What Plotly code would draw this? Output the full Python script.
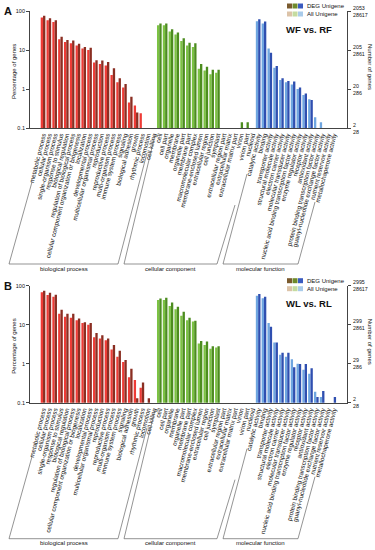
import math
import plotly.graph_objects as go

W, H = 375, 550

bio_terms = ["metabolic process", "cellular process", "single-organism process", "response to stimulus",
             "biological regulation", "regulation of biological process",
             "cellular component organization or biogenesis", "localization", "developmental process",
             "multicellular organismal process", "reproduction", "reproductive process",
             "multi-organism process", "immune system process", "signaling", "biological adhesion",
             "growth", "rhythmic process", "locomotion", "cell killing"]
cc_terms = ["cell", "cell part", "organelle", "membrane", "organelle part", "membrane part",
            "macromolecular complex", "membrane-enclosed lumen", "extracellular region", "cell junction",
            "symplast", "extracellular region part", "extracellular matrix", "extracellular matrix part",
            "virion", "virion part", "nucleoid"]
mf_terms = ["catalytic activity", "binding", "transporter activity", "structural molecule activity",
            "electron carrier activity", "molecular transducer activity",
            "nucleic acid binding transcription factor activity", "enzyme regulator activity",
            "receptor activity", "antioxidant activity", "protein binding transcription factor activity",
            "guanyl-nucleotide exchange factor activity", "nutrient reservoir activity",
            "metallochaperone activity"]

all_bio = [68, 58, 52, 19, 16, 15, 13, 11, 10, 4.8, 4.4, 4.0, 2.3, 1.5, 1.1, 0.45, 0.38, 0.24, None, None]
all_cc = [43, 43, 30, 25, 17, 13, 12, 3.3, 3.0, 2.4, 2.6, None, None, None, None, None, None]
all_mf = [55, 48, 11, 3.5, 1.7, 1.5, 1.3, 1.0, 0.7, 0.55, 0.19, 0.14, None, None]

degA_bio = [76, 65, 58, 22, 18, 17.5, 14.5, 12, 11.5, 5.5, 5.4, 4.9, 3.4, 1.9, 1.35, 0.63, 0.25, None, None, None]
degA_cc = [48, 48, 34, 28, 20, 15.4, 15, 4.4, 3.7, 3.1, 3.1, None, None, None, 0.14, 0.14, None]
degA_mf = [61, 54, 8.5, 3.9, 1.9, 1.6, 1.55, 1.1, 0.77, 0.52, None, None, None, None]

degB_bio = [74.5, 66, 59, 24, 19, 19, 14.5, 11.5, 11, 6.1, 5.4, 4.4, 3.0, 2.15, 1.24, 0.74, 0.13, 0.33, 0.13, None]
degB_cc = [47, 49, 37, 29, 21.5, 15, 12.6, 3.8, 3.7, 2.8, 2.8, None, None, None, None, None, None]
degB_mf = [61, 52, 8.9, 3.5, 1.9, 1.9, 0.81, 0.98, 0.98, 0.76, 0.14, 0.2, None, 0.14]

pct_ticks = [0.1, 1, 10, 100]
pct_labels = ["0.1", "1", "10", "100"]
countA_labels = ["2<br>28", "20<br>286", "205<br>2861", "2053<br>28617"]
countB_labels = ["2<br>28", "29<br>286", "299<br>2861", "2995<br>28617"]

group_names = ["biological process", "cellular component", "molecular function"]

categories = bio_terms + cc_terms + mf_terms
all_vals = all_bio + all_cc + all_mf
degA = degA_bio + degA_cc + degA_mf
degB = degB_bio + degB_cc + degB_mf

deg_cols = ["#8A2E22", "#4C8C1F", "#2F4FB0"]
all_cols = ["#EE3B36", "#7CC243", "#6FA6E0"]
leg_deg = ["#7A5A2E", "#6F8A2C", "#3A5BC0"]
leg_all = ["#DCC3A8", "#C5DBA0", "#A9CBEA"]

sizes = [len(bio_terms), len(cc_terms), len(mf_terms)]
deg_colors, all_colors = [], []
for g, n in enumerate(sizes):
    deg_colors += [deg_cols[g]] * n
    all_colors += [all_cols[g]] * n

FONT = "Liberation Sans, Arial, sans-serif"


def px(x):
    return x / W


def py(y):
    return 1 - y / H


fig = go.Figure()
panels = [("x", "y", "y2", degA), ("x2", "y3", "y4", degB)]
for xa, ya, ya2, deg in panels:
    fig.add_trace(go.Bar(x=categories, y=all_vals, marker=dict(color=all_colors, line=dict(width=0)),
                         xaxis=xa, yaxis=ya, showlegend=False, hoverinfo="skip"))
    fig.add_trace(go.Bar(x=categories, y=deg, marker=dict(color=deg_colors, line=dict(width=0)),
                         xaxis=xa, yaxis=ya, showlegend=False, hoverinfo="skip"))
    fig.add_trace(go.Scatter(x=[categories[0]], y=[1], mode="markers", marker=dict(opacity=0),
                             xaxis=xa, yaxis=ya2, showlegend=False, hoverinfo="skip"))

xdom = [px(30), px(347)]
domA = [py(128), py(11)]
domB = [py(402.7), py(285.7)]
xr = [-2.24, 52.28]

xcommon = dict(domain=xdom, range=xr, type="category", tickmode="array", tickvals=categories,
               ticktext=categories, tickangle=-76, tickfont=dict(size=6.3, family=FONT, color="#111"),
               showline=True, linecolor="#444", linewidth=0.8, ticks="", showgrid=False,
               automargin=False, zeroline=False)
ycommon = dict(type="log", range=[-1, 2], tickvals=pct_ticks, ticktext=pct_labels,
               tickfont=dict(size=5.5, family=FONT, color="#111"), showline=True, linecolor="#444",
               linewidth=0.8, ticks="outside", ticklen=3, tickwidth=0.8, tickcolor="#444",
               showgrid=False, automargin=False, zeroline=False)


def right_axis(over, anchor):
    return dict(type="log", range=[-1, 2], tickvals=pct_ticks, showticklabels=False, overlaying=over,
                side="right", anchor=anchor, showline=True, linecolor="#444", linewidth=0.8,
                ticks="outside", ticklen=3, tickwidth=0.8, tickcolor="#444", showgrid=False,
                automargin=False, zeroline=False)


fig.update_layout(
    width=W, height=H, margin=dict(l=0, r=0, t=0, b=0), paper_bgcolor="white", plot_bgcolor="white",
    barmode="group", bargap=0.2, bargroupgap=0, showlegend=False,
    xaxis=dict(anchor="y", **xcommon),
    yaxis=dict(domain=domA, anchor="x", **ycommon),
    yaxis2=right_axis("y", "x"),
    xaxis2=dict(anchor="y3", **xcommon),
    yaxis3=dict(domain=domB, anchor="x2", **ycommon),
    yaxis4=right_axis("y3", "x2"),
)

annotations = []
shapes = []


def text(x, y, s, size, bold=False, angle=0, xanchor="center"):
    annotations.append(dict(x=px(x), y=py(y), xref="paper", yref="paper", text=("<b>%s</b>" % s) if bold else s,
                            showarrow=False, textangle=angle, xanchor=xanchor, yanchor="middle",
                            font=dict(size=size, family=FONT, color="#111")))


# right-hand count labels, placed on the right axes' own scale
for yref, labels in [("y2", countA_labels), ("y4", countB_labels)]:
    for v, lab in zip(pct_ticks, labels):
        annotations.append(dict(x=px(351), y=math.log10(v), xref="paper", yref=yref, text=lab,
                                showarrow=False, xanchor="left", yanchor="middle", align="left",
                                font=dict(size=5.3, family=FONT, color="#111")))

for off, letter, title in [(0, "A", "WF vs. RF"), (274.7, "B", "WL vs. RL")]:
    text(8, 11 + off, letter, 11, bold=True)
    text(14, 72 + off, "Percentage of genes", 6, angle=-90)
    text(370, 67 + off, "Number of genes", 6, angle=90)
    text(309, 29 + off, title, 9.5, bold=True)
    # legend
    for i in range(3):
        x0 = 287 + i * 5.5
        for yc, cols in [(6 + off, leg_deg), (14 + off, leg_all)]:
            shapes.append(dict(type="rect", xref="paper", yref="paper", x0=px(x0), x1=px(x0 + 5),
                               y0=py(yc + 2.5), y1=py(yc - 2.5), fillcolor=cols[i], line=dict(width=0)))
    text(304.5, 6 + off, "DEG Unigene", 6, xanchor="left")
    text(304.5, 14 + off, "All Unigene", 6, xanchor="left")
    # brackets
    yb = 264 + off
    brackets = [[(32, 182), (9, 264), (118, 264), (147, 153)],
                [(155, 135), (124, 264), (217, 264), (235, 205)],
                [(247, 174), (223, 264), (298, 264), (315, 202)]]
    for pts, name in zip(brackets, group_names):
        path = "M " + " L ".join("%.5f,%.5f" % (px(a), py(b + off)) for a, b in pts)
        shapes.append(dict(type="path", xref="paper", yref="paper", path=path,
                           line=dict(color="#666", width=0.7)))
        cx = (pts[1][0] + pts[2][0]) / 2
        text(cx, yb + 4.5, name, 6)

fig.update_layout(annotations=annotations, shapes=shapes)
fig.write_html("out.html", config={"displayModeBar": False},
               post_script="document.body.style.margin='0px';")
